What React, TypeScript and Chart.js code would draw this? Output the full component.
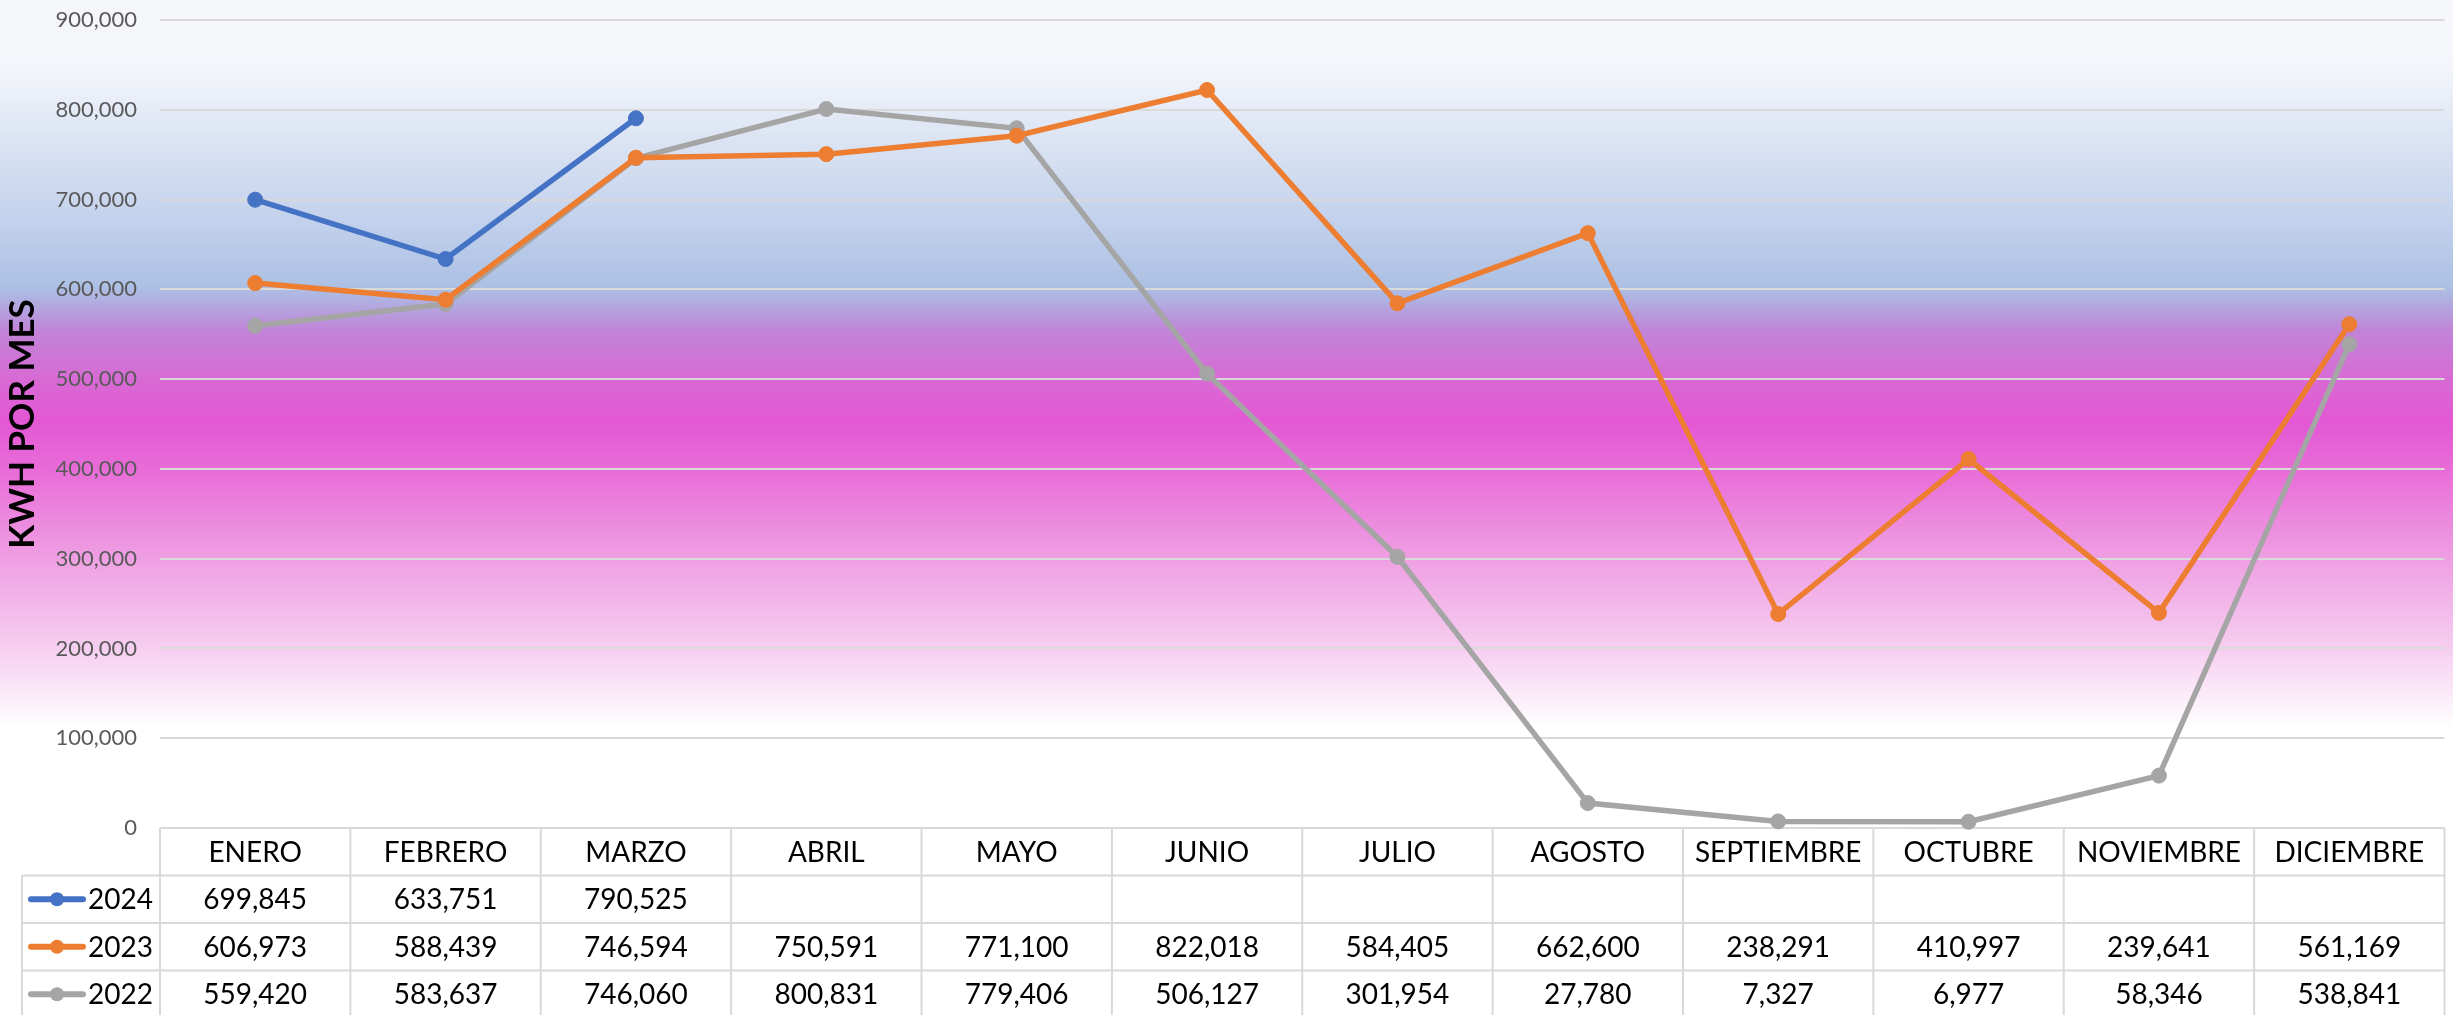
import React, { useEffect, useRef } from 'react';
import { Chart, registerables } from 'chart.js';

Chart.register(...registerables);

const MONTHS = ['ENERO', 'FEBRERO', 'MARZO', 'ABRIL', 'MAYO', 'JUNIO', 'JULIO', 'AGOSTO', 'SEPTIEMBRE', 'OCTUBRE', 'NOVIEMBRE', 'DICIEMBRE'];
const SERIES_LABELS = ['2024', '2023', '2022'];
const VALUES_2024 = [699845, 633751, 790525, null, null, null, null, null, null, null, null, null];
const VALUES_2023 = [606973, 588439, 746594, 750591, 771100, 822018, 584405, 662600, 238291, 410997, 239641, 561169];
const VALUES_2022 = [559420, 583637, 746060, 800831, 779406, 506127, 301954, 27780, 7327, 6977, 58346, 538841];
const SERIES_COLORS = ['#4472C4', '#ED7D31', '#A5A5A5'];
const Y_MIN = 0;
const Y_MAX = 900000;
const Y_STEP = 100000;
const Y_TITLE = 'KWH POR MES';

const W = 2453;
const H = 1015;
const FONT = 'Lato, "Noto Sans", sans-serif';

const GRADIENT_STOPS: [number, string][] = [
  [0, '#F5F7FB'],
  [65, '#F4F6FB'],
  [110, '#E5EBF6'],
  [200, '#C9D6EE'],
  [285, '#ADC1E4'],
  [298, '#AFB3E2'],
  [330, '#C085D7'],
  [380, '#D86AD4'],
  [420, '#E357D4'],
  [470, '#E86CD8'],
  [560, '#EFA0E3'],
  [648, '#F6CEF0'],
  [700, '#FCEEFA'],
  [728, '#FFFFFF'],
];
const GRADIENT_END = 728;

const bgPlugin = {
  id: 'bgGradient',
  beforeDraw(chart: any) {
    const { ctx, width, height } = chart;
    ctx.save();
    ctx.fillStyle = '#FFFFFF';
    ctx.fillRect(0, 0, width, height);
    const g = ctx.createLinearGradient(0, 0, 0, GRADIENT_END);
    GRADIENT_STOPS.forEach(([y, c]) => g.addColorStop(y / GRADIENT_END, c));
    ctx.fillStyle = g;
    ctx.fillRect(0, 0, width, GRADIENT_END);
    ctx.restore();
  },
};

const tablePlugin = {
  id: 'dataTable',
  beforeDatasetsDraw(chart: any) {
    const { ctx, chartArea } = chart;
    const x = chart.scales.x;
    const n = MONTHS.length;
    const colW = (chartArea.right - chartArea.left) / n;
    const top = chartArea.bottom;
    const rowH = 47.5;
    const legendLeft = 22;
    const bottom = chart.height + 2;
    const line = (x1: number, y1: number, x2: number, y2: number) => {
      ctx.beginPath();
      ctx.moveTo(x1, y1);
      ctx.lineTo(x2, y2);
      ctx.stroke();
    };
    ctx.save();
    ctx.strokeStyle = '#D9D9D9';
    ctx.lineWidth = 2;
    line(chartArea.left, top, chartArea.right, top);
    for (let r = 1; r <= 3; r++) line(legendLeft, top + r * rowH, chartArea.right, top + r * rowH);
    line(legendLeft, top + rowH, legendLeft, bottom);
    for (let i = 0; i <= n; i++) {
      const xx = Math.min(chartArea.left + i * colW, chart.width - 1);
      line(xx, top, xx, bottom);
    }
    ctx.fillStyle = '#000000';
    ctx.font = `28px ${FONT}`;
    ctx.textAlign = 'center';
    ctx.textBaseline = 'middle';
    MONTHS.forEach((m, i) => ctx.fillText(m, x.getPixelForValue(i), top + rowH / 2 + 1));
    chart.data.datasets.forEach((ds: any, r: number) => {
      const cy = top + (r + 1) * rowH + rowH / 2 + 1;
      ctx.fillStyle = '#000000';
      ctx.textAlign = 'center';
      ds.data.forEach((v: number | null, i: number) => {
        if (v != null) ctx.fillText(v.toLocaleString('en-US'), x.getPixelForValue(i), cy);
      });
      // legend key
      ctx.strokeStyle = ds.borderColor;
      ctx.lineWidth = 6;
      ctx.lineCap = 'round';
      line(31, cy - 1, 83, cy - 1);
      ctx.fillStyle = ds.borderColor;
      ctx.beginPath();
      ctx.arc(57, cy - 1, 7, 0, Math.PI * 2);
      ctx.fill();
      ctx.fillStyle = '#000000';
      ctx.textAlign = 'left';
      ctx.fillText(ds.label, 88, cy);
      ctx.strokeStyle = '#D9D9D9';
      ctx.lineWidth = 2;
      ctx.lineCap = 'butt';
    });
    ctx.restore();
  },
};

export default function App() {
  const ref = useRef<HTMLCanvasElement | null>(null);
  useEffect(() => {
    document.body.style.margin = '0';
    const canvas = ref.current;
    if (!canvas) return;
    const seriesValues = [VALUES_2024, VALUES_2023, VALUES_2022];
    const chart = new Chart(canvas, {
      type: 'line',
      data: {
        labels: MONTHS,
        datasets: SERIES_LABELS.map((label, i) => ({
          label,
          data: seriesValues[i],
          borderColor: SERIES_COLORS[i],
          backgroundColor: SERIES_COLORS[i],
          pointBackgroundColor: SERIES_COLORS[i],
          pointBorderColor: SERIES_COLORS[i],
          borderWidth: 5.5,
          pointRadius: 7.5,
          pointBorderWidth: 1,
          tension: 0,
          spanGaps: false,
          clip: false as any,
          order: i,
        })),
      },
      options: {
        responsive: false,
        animation: false,
        devicePixelRatio: 1,
        layout: { padding: { top: 20, bottom: H - 828, left: 0, right: 0 } },
        plugins: {
          legend: { display: false },
          tooltip: { enabled: false },
          title: { display: false },
        },
        scales: {
          x: {
            type: 'category',
            display: false,
            offset: true,
            grid: { display: false },
          },
          y: {
            min: Y_MIN,
            max: Y_MAX,
            border: { display: false },
            grid: { color: '#D9D9D9', lineWidth: 2, drawTicks: false },
            ticks: {
              stepSize: Y_STEP,
              padding: 23,
              color: '#595959',
              font: { family: FONT, size: 22 },
              callback: (v: any) => Number(v).toLocaleString('en-US'),
            },
            title: {
              display: true,
              text: Y_TITLE,
              color: '#000000',
              font: { family: FONT, size: 35, weight: 'bold' },
              padding: { top: 2, bottom: 0 },
            },
            afterFit: (axis: any) => {
              axis.width = 160;
              axis.paddingTop = 0;
              axis.paddingBottom = 0;
            },
          },
        },
      },
      plugins: [bgPlugin, tablePlugin],
    });
    return () => chart.destroy();
  }, []);
  return (
    <div style={{ width: W, height: H, overflow: 'hidden' }}>
      <canvas ref={ref} width={W} height={H} style={{ display: 'block', width: W, height: H }} />
    </div>
  );
}
